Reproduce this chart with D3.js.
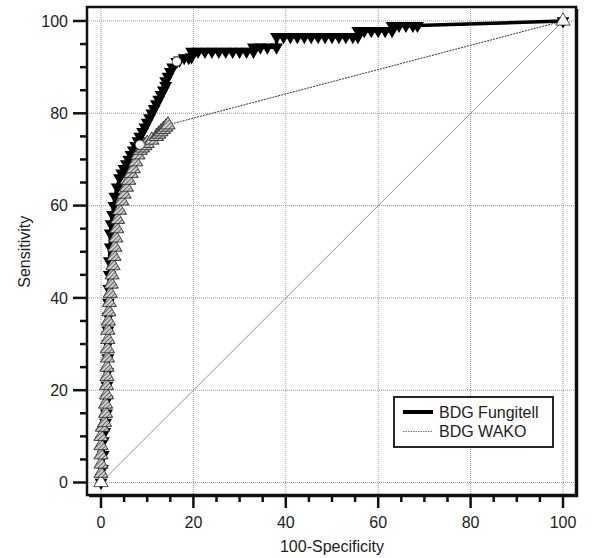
<!DOCTYPE html>
<html>
<head>
<meta charset="utf-8">
<script src="https://cdn.jsdelivr.net/npm/d3@7"></script>
<style>
  body { margin: 0; background: #fff; }
  text { font-family: "Liberation Sans", Arial, sans-serif; fill: #222; }
</style>
</head>
<body>
<div id="main"></div>
<script>
// ROC curves, values (x = 100-Specificity, y = Sensitivity)
const fungitellPoints = [
  [0,0],[0.3,3],[0.5,6],[0.5,9],[0.8,11],[1,13],[1.2,15],[1.3,18],[1.3,21],[1.4,24],
  [1.5,27],[1.5,30],[1.5,33],[1.6,36],[1.6,39],[1.7,42],[1.8,45],[1.8,48],[2,51],[2,54],
  [2.2,56],[2.5,58],[2.8,60],[3,62],[3.5,64],[4,66],[4.5,67],[5,68],[5.5,69],[6,70],
  [6.5,71],[7,72],[7.5,73],[8,74],[8.4,75],[9,76],[9.5,77],[10,78],[10.5,79],[11,80],
  [11.5,81],[12,82],[12.5,83],[13,84],[13.5,85],[14,86],[14,87],[14.5,88],[15,89],[15.5,90],
  [16.4,91.2],[17,91.5],[18,92],[19,92],[19.6,92.2],[19.6,93.4],[21,93.4],[22.5,93.4],[24,93.4],
  [25.5,93.4],[27,93.4],[28.5,93.4],[30,93.4],[31.5,93.4],[33,93.4],[33,94.3],[34.5,94.3],
  [36,94.3],[38,94.3],[38,96.6],[39.5,96.6],[41,96.6],[42.5,96.6],[44,96.6],[45.5,96.6],
  [47,96.6],[48.5,96.6],[50,96.6],[51.5,96.6],[53,96.6],[54.5,96.6],[55.6,96.6],[55.6,97.9],
  [57,97.9],[58.5,97.9],[60,97.9],[61.5,97.9],[63,97.9],[63,99],[64.5,99],[66,99],[67.5,99],
  [68.5,99],[100,100]
];

const wakoPoints = [
  [0,0],[0,2],[0,4],[0,6],[0,8],[0,10],[0.3,12],[0.8,13],[1,15],[1,17],[1.2,19],[1.2,21],
  [1.3,23],[1.3,25],[1.4,27],[1.4,29],[1.5,31],[1.5,33],[1.6,35],[1.7,37],[1.8,39],[2,41],
  [2.2,43],[2.4,45],[2.6,47],[2.8,49],[3,51],[3.2,53],[3.4,55],[3.6,57],[4,59],[4.5,61],
  [5,62.5],[5.5,64],[6,65.5],[6.5,67],[7,68],[7.5,69.5],[8,71],[8.5,72],[9,72.5],[9.5,73],
  [10,73.5],[11,74.2],[12,75],[12.5,75.5],[13,76],[13.5,76.5],[14,77],[14.5,77.5],[100,100]
];

const cutoffPoints = [[16.4,91.2],[8.4,73.2]];
const diagonal = [[0,0],[100,100]];

const majorTicks = [0,20,40,60,80,100];
const minorTicks = d3.range(0, 101, 5).filter(d => d % 20 !== 0);
const legendLabels = ["BDG Fungitell", "BDG WAKO"];

const W = 592, H = 558;
const plot = {left: 101, right: 563, top: 21, bottom: 482.5};
const frame = {left: 87, right: 576, top: 7, bottom: 495};

const svg = d3.select("#main")
  .append("svg")
    .attr("width", W)
    .attr("height", H);

// hatched fill for the WAKO triangles
const pat = svg.append("defs").append("pattern")
  .attr("id", "hatch")
  .attr("patternUnits", "userSpaceOnUse")
  .attr("width", 3).attr("height", 3)
  .attr("patternTransform", "rotate(45)");
pat.append("rect").attr("width", 3).attr("height", 3).attr("fill", "#d0d0d0");
pat.append("line").attr("x1", 0).attr("y1", 0).attr("x2", 0).attr("y2", 3)
  .attr("stroke", "#3a3a3a").attr("stroke-width", 1.4);

const x = d3.scaleLinear().domain([0, 100]).range([plot.left, plot.right]);
const y = d3.scaleLinear().domain([0, 100]).range([plot.bottom, plot.top]);

// grid
const grid = svg.append("g")
  .attr("stroke", "#999")
  .attr("stroke-width", 1)
  .attr("stroke-dasharray", "1,1");
grid.selectAll(".vg").data(majorTicks).join("line")
  .attr("x1", d => x(d)).attr("x2", d => x(d))
  .attr("y1", frame.top).attr("y2", frame.bottom);
grid.selectAll(".hg").data(majorTicks).join("line")
  .attr("y1", d => y(d)).attr("y2", d => y(d))
  .attr("x1", frame.left).attr("x2", frame.right);

const line = d3.line().x(d => x(d[0])).y(d => y(d[1]));

// reference diagonal
svg.append("path")
  .attr("d", line(diagonal))
  .attr("fill", "none")
  .attr("stroke", "#888")
  .attr("stroke-width", 0.9);

// WAKO line
svg.append("path")
  .attr("d", line(wakoPoints))
  .attr("fill", "none")
  .attr("stroke", "#333")
  .attr("stroke-width", 1)
  .attr("stroke-dasharray", "2,1");

// Fungitell line
svg.append("path")
  .attr("d", line(fungitellPoints))
  .attr("fill", "none")
  .attr("stroke", "#000")
  .attr("stroke-width", 3.5);

// Fungitell markers (down triangles)
svg.append("g").selectAll("path")
  .data(fungitellPoints)
  .join("path")
    .attr("d", d3.symbol(d3.symbolTriangle, 72))
    .attr("transform", d => `translate(${x(d[0])},${y(d[1])}) rotate(180)`)
    .attr("fill", "#000");

// WAKO markers (up triangles)
svg.append("g").selectAll("path")
  .data(wakoPoints)
  .join("path")
    .attr("d", d3.symbol(d3.symbolTriangle, 88))
    .attr("transform", d => `translate(${x(d[0])},${y(d[1])})`)
    .attr("fill", (d, i) => (i === 0 || i === wakoPoints.length - 1) ? "#fff" : "url(#hatch)")
    .attr("stroke", "#222")
    .attr("stroke-width", 0.8);

// cut-off circles
svg.append("g").selectAll("circle")
  .data(cutoffPoints)
  .join("circle")
    .attr("cx", d => x(d[0]))
    .attr("cy", d => y(d[1]))
    .attr("r", 4.5)
    .attr("fill", "#fff")
    .attr("stroke", "#333")
    .attr("stroke-width", 0.6);

// frame with a slightly heavier right/bottom edge
svg.append("rect")
  .attr("x", frame.left).attr("y", frame.top)
  .attr("width", frame.right - frame.left)
  .attr("height", frame.bottom - frame.top)
  .attr("fill", "none")
  .attr("stroke", "#111")
  .attr("stroke-width", 2.5);
svg.append("path")
  .attr("d", `M${frame.right + 1.5},${frame.top + 2}V${frame.bottom + 1.5}H${frame.left + 2}`)
  .attr("fill", "none")
  .attr("stroke", "#111")
  .attr("stroke-width", 1.5);

// axis ticks
const ax = svg.append("g").attr("stroke", "#111");
ax.selectAll(".xmaj").data(majorTicks).join("line")
  .attr("x1", d => x(d)).attr("x2", d => x(d))
  .attr("y1", frame.bottom).attr("y2", frame.bottom + 13)
  .attr("stroke-width", 2.5);
ax.selectAll(".xmin").data(minorTicks).join("line")
  .attr("x1", d => x(d)).attr("x2", d => x(d))
  .attr("y1", frame.bottom).attr("y2", frame.bottom + 7)
  .attr("stroke-width", 2.5);
ax.selectAll(".ymaj").data(majorTicks).join("line")
  .attr("y1", d => y(d)).attr("y2", d => y(d))
  .attr("x1", frame.left).attr("x2", frame.left - 14)
  .attr("stroke-width", 2.5);
ax.selectAll(".ymin").data(minorTicks).join("line")
  .attr("y1", d => y(d)).attr("y2", d => y(d))
  .attr("x1", frame.left).attr("x2", frame.left - 7)
  .attr("stroke-width", 2.5);

// tick labels
svg.append("g").selectAll("text")
  .data(majorTicks)
  .join("text")
    .attr("x", d => x(d))
    .attr("y", frame.bottom + 33)
    .attr("text-anchor", "middle")
    .attr("font-size", 16)
    .text(d => d);
svg.append("g").selectAll("text")
  .data(majorTicks)
  .join("text")
    .attr("x", frame.left - 19)
    .attr("y", d => y(d))
    .attr("dy", "0.36em")
    .attr("text-anchor", "end")
    .attr("font-size", 16)
    .text(d => d);

// axis titles
svg.append("text")
  .attr("x", (plot.left + plot.right) / 2)
  .attr("y", 552)
  .attr("text-anchor", "middle")
  .attr("font-size", 16)
  .text("100-Specificity");
svg.append("text")
  .attr("transform", `translate(30,${(plot.top + plot.bottom) / 2}) rotate(-90)`)
  .attr("text-anchor", "middle")
  .attr("font-size", 16)
  .text("Sensitivity");

// legend
const lg = svg.append("g");
lg.append("rect")
  .attr("x", 394).attr("y", 397)
  .attr("width", 159).attr("height", 50)
  .attr("fill", "#fff")
  .attr("stroke", "#111")
  .attr("stroke-width", 1.8);
const legendStyles = [
  {stroke: "#000", width: 4, dash: null},
  {stroke: "#777", width: 1, dash: "1.5,1"}
];
legendLabels.forEach((label, i) => {
  const yy = 412 + i * 19.5;
  lg.append("line")
    .attr("x1", 403).attr("x2", 433)
    .attr("y1", yy).attr("y2", yy)
    .attr("stroke", legendStyles[i].stroke)
    .attr("stroke-width", legendStyles[i].width)
    .attr("stroke-dasharray", legendStyles[i].dash);
  lg.append("text")
    .attr("x", 439).attr("y", yy)
    .attr("dy", "0.36em")
    .attr("font-size", 16)
    .text(label);
});
</script>
</body>
</html>
